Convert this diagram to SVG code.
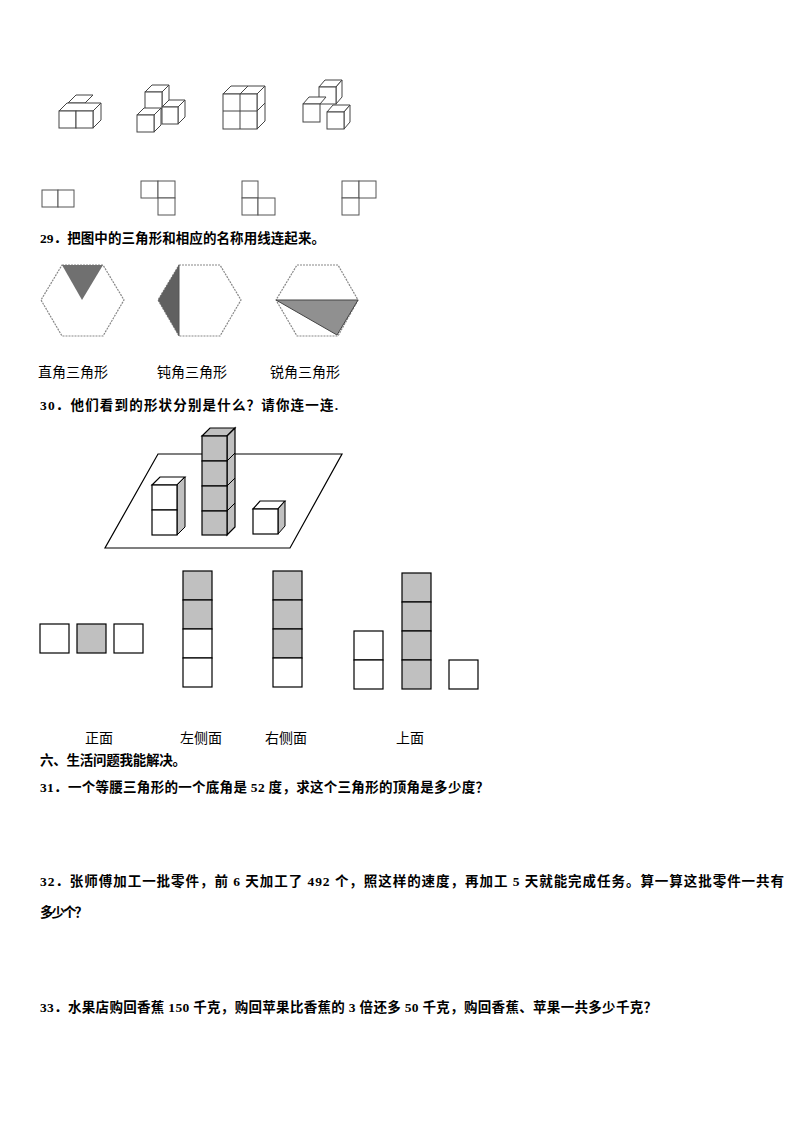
<svg xmlns="http://www.w3.org/2000/svg" width="794" height="1123" viewBox="0 0 794 1123">
<style>
.q{font-family:"Liberation Serif","Noto Sans CJK SC",serif;font-size:13.5px;font-weight:bold;fill:#000}
.l{font-family:"Liberation Serif","Noto Sans CJK SC",serif;font-size:14px;fill:#000}
.c{fill:#fff;stroke:#444;stroke-width:1}
.k{fill:#fff;stroke:#000;stroke-width:1.2}
.g{fill:#c0c0c0;stroke:#000;stroke-width:1.2}
.hx{fill:#fff;stroke:#888;stroke-width:1.2;stroke-dasharray:2 1}
</style>
<rect width="794" height="1123" fill="#fff"/>
<g id="fig1">
<path class="c" d="M68,103 l8,-8 h17 l-8,8 z"/>
<path class="c" d="M59,111 l8,-8 h34 l-8,8 z"/>
<path class="c" d="M93,111 l8,-8 v17 l-8,8 z"/>
<rect class="c" x="59" y="111" width="17" height="17"/><rect class="c" x="76" y="111" width="17" height="17"/>
</g>
<g id="fig2">
<path class="c" d="M145,92 l7,-7 h17 l-7,7 z"/><path class="c" d="M162,92 l7,-7 v17 l-7,7 z"/><rect class="c" x="145" y="92" width="17" height="17"/>
<path class="c" d="M162,107 l7,-7 h16 l-7,7 z"/><path class="c" d="M178,107 l7,-7 v17 l-7,7 z"/><rect class="c" x="162" y="107" width="16" height="17"/>
<path class="c" d="M137,115 l7,-7 h17 l-7,7 z"/><path class="c" d="M154,115 l7,-7 v17 l-7,7 z"/><rect class="c" x="137" y="115" width="17" height="17"/>
</g>
<g id="fig3">
<path class="c" d="M223,94 l8,-8 h34 l-8,8 z"/><path class="c" d="M257,94 l8,-8 v35 l-8,8 z"/>
<rect class="c" x="223" y="94" width="34" height="35"/>
<path d="M240,94 v35 M223,111 h34 M248,86 l-8,8 M257,111 l8,-8" stroke="#444" fill="none"/>
</g>
<g id="fig4">
<path class="c" d="M319,87 l6,-7 h17 l-6,7 z"/><path class="c" d="M336,87 l6,-7 v17 l-6,7 z"/><rect class="c" x="319" y="87" width="17" height="17"/>
<path class="c" d="M303,104 l6,-7 h17 l-6,7 z"/><rect class="c" x="303" y="104" width="17" height="18"/>
<path class="c" d="M327,112 l6,-7 h17 l-6,7 z"/><path class="c" d="M344,112 l6,-7 v17 l-6,7 z"/><rect class="c" x="327" y="112" width="17" height="17"/>
</g>
<g id="nets" fill="#fff" stroke="#555">
<rect x="42" y="190" width="16" height="17"/><rect x="58" y="190" width="16" height="17"/>
<rect x="141" y="181" width="17" height="17"/><rect x="158" y="181" width="17" height="17"/><rect x="158" y="198" width="17" height="17"/>
<rect x="242" y="181" width="16" height="17"/><rect x="242" y="198" width="16" height="17"/><rect x="258" y="198" width="17" height="17"/>
<rect x="342" y="181" width="17" height="17"/><rect x="359" y="181" width="17" height="17"/><rect x="342" y="198" width="17" height="17"/>
</g>
<text class="q" x="40" y="243" textLength="285" lengthAdjust="spacing">29．把图中的三角形和相应的名称用线连起来。</text>
<g id="hex1"><polygon class="hx" points="62,265 103,265 124,300 103,336 62,336 41,300"/><polygon points="62,265 103,265 82,300" fill="#707070"/></g>
<g id="hex2"><polygon class="hx" points="179,265 220,265 241,300 220,336 179,336 158,300"/><polygon points="179,265 179,336 158,300" fill="#606060"/><line x1="179" y1="265" x2="179" y2="336" stroke="#555"/></g>
<g id="hex3"><polygon class="hx" points="297,265 338,265 358,300 338,336 297,336 276,300"/><polygon points="276,300 358,300 337,335" fill="#909090" stroke="#444"/></g>
<text class="l" x="38" y="377">直角三角形</text>
<text class="l" x="157" y="377">钝角三角形</text>
<text class="l" x="270" y="377">锐角三角形</text>
<text class="q" x="40" y="410" textLength="298" lengthAdjust="spacing">30．他们看到的形状分别是什么？请你连一连.</text>
<g id="scene">
<polygon points="158,454 342,454 290,548 105,548" fill="#fff" stroke="#000" stroke-width="1.2"/>
<path class="k" d="M152,485 l8,-8 h25 l-8,8 z"/><path d="M177,485 l8,-8 v50 l-8,8 z" fill="#c0c0c0" stroke="#000"/>
<rect class="k" x="152" y="485" width="25" height="25"/><rect class="k" x="152" y="510" width="25" height="25"/>
<path class="g" d="M202,436 l8,-8 h25 l-8,8 z"/><path class="g" d="M227,436 l8,-8 v99 l-8,8 z"/>
<path d="M227,461 l8,-8 M227,486 l8,-8 M227,511 l8,-8" stroke="#000"/>
<rect class="g" x="202" y="436" width="25" height="25"/><rect class="g" x="202" y="461" width="25" height="25"/><rect class="g" x="202" y="486" width="25" height="25"/><rect class="g" x="202" y="511" width="25" height="24"/>
<path class="k" d="M253,509 l7,-8 h25 l-7,8 z"/><path d="M278,509 l7,-8 v25 l-7,8 z" fill="#c0c0c0" stroke="#000"/>
<rect class="k" x="253" y="509" width="25" height="25"/>
</g>
<g id="views" stroke="#000" stroke-width="1.2">
<rect x="40" y="624" width="29" height="29" fill="#fff"/><rect x="77" y="624" width="29" height="29" fill="#c0c0c0"/><rect x="114" y="624" width="29" height="29" fill="#fff"/>
<rect x="183" y="571" width="29" height="29" fill="#c0c0c0"/><rect x="183" y="600" width="29" height="29" fill="#c0c0c0"/><rect x="183" y="629" width="29" height="29" fill="#fff"/><rect x="183" y="658" width="29" height="29" fill="#fff"/>
<rect x="273" y="571" width="29" height="29" fill="#c0c0c0"/><rect x="273" y="600" width="29" height="29" fill="#c0c0c0"/><rect x="273" y="629" width="29" height="29" fill="#c0c0c0"/><rect x="273" y="658" width="29" height="29" fill="#fff"/>
<rect x="354" y="631" width="29" height="29" fill="#fff"/><rect x="354" y="660" width="29" height="29" fill="#fff"/>
<rect x="402" y="573" width="29" height="29" fill="#c0c0c0"/><rect x="402" y="602" width="29" height="29" fill="#c0c0c0"/><rect x="402" y="631" width="29" height="29" fill="#c0c0c0"/><rect x="402" y="660" width="29" height="29" fill="#c0c0c0"/>
<rect x="449" y="660" width="29" height="29" fill="#fff"/>
</g>
<text class="l" x="85" y="743">正面</text>
<text class="l" x="180" y="743">左侧面</text>
<text class="l" x="265" y="743">右侧面</text>
<text class="l" x="396" y="743">上面</text>
<text class="q" x="40" y="765" textLength="146" lengthAdjust="spacing">六、生活问题我能解决。</text>
<text class="q" x="40" y="792" textLength="449" lengthAdjust="spacing">31．一个等腰三角形的一个底角是 52 度，求这个三角形的顶角是多少度？</text>
<text class="q" x="40" y="886" textLength="744" lengthAdjust="spacing">32．张师傅加工一批零件，前 6 天加工了 492 个，照这样的速度，再加工 5 天就能完成任务。算一算这批零件一共有</text>
<text class="q" x="40" y="917" textLength="48" lengthAdjust="spacing">多少个？</text>
<text class="q" x="40" y="1012" textLength="617" lengthAdjust="spacing">33．水果店购回香蕉 150 千克，购回苹果比香蕉的 3 倍还多 50 千克，购回香蕉、苹果一共多少千克？</text>
</svg>
